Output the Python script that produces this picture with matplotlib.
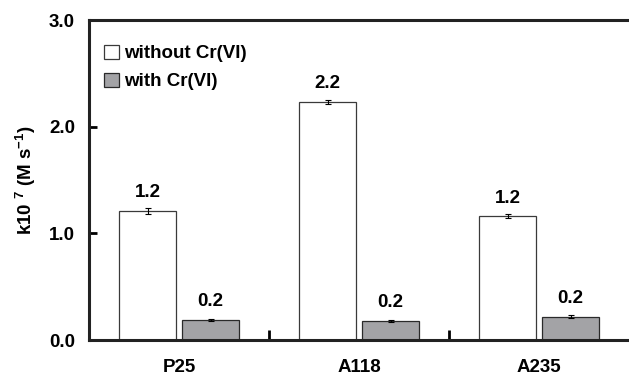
import numpy as np
import matplotlib.pyplot as plt

plt.rcParams["font.family"] = ["Liberation Sans", "DejaVu Sans"]
plt.rcParams["font.weight"] = "bold"
plt.rcParams["mathtext.fontset"] = "custom"
plt.rcParams["mathtext.rm"] = "Liberation Sans:bold"
plt.rcParams["mathtext.bf"] = "Liberation Sans:bold"
plt.rcParams["mathtext.default"] = "bf"

# data
categories = ["P25", "A118", "A235"]
without_cr = [1.21, 2.23, 1.16]
without_err = [0.03, 0.02, 0.02]
with_cr = [0.19, 0.18, 0.22]
with_err = [0.01, 0.01, 0.01]
label_without = ["1.2", "2.2", "1.2"]
label_with = ["0.2", "0.2", "0.2"]

fig = plt.figure(figsize=(6.29, 3.78), dpi=100)
ax = fig.add_axes([0.1415, 0.1005, 0.8585, 0.8465])

x = np.arange(len(categories))
width = 0.32
off = 0.175
fs = 13.5

ax.bar(x - off, without_cr, width, color="white", edgecolor="#3a3a3a",
       linewidth=0.9, label="without Cr(VI)", zorder=2)
ax.bar(x + off, with_cr, width, color="#a3a3a6", edgecolor="#2a2a2a",
       linewidth=0.9, label="with Cr(VI)", zorder=2)
ax.errorbar(x - off, without_cr, yerr=without_err, fmt="none", ecolor="black",
            elinewidth=0.8, capsize=2.5, capthick=0.8, zorder=3)
ax.errorbar(x + off, with_cr, yerr=with_err, fmt="none", ecolor="black",
            elinewidth=0.8, capsize=2.5, capthick=0.8, zorder=3)

for xi, v, t in zip(x - off, without_cr, label_without):
    ax.annotate(t, (xi, v), xytext=(0, 7), textcoords="offset points",
                ha="center", va="bottom", fontsize=fs, fontweight="bold")
for xi, v, t in zip(x + off, with_cr, label_with):
    ax.annotate(t, (xi, v), xytext=(0, 7), textcoords="offset points",
                ha="center", va="bottom", fontsize=fs, fontweight="bold")

ax.set_xlim(-0.5, 2.5)
ax.set_ylim(0, 3.0)
ax.set_yticks([0, 1, 2, 3])
ax.set_yticklabels(["0.0", "1.0", "2.0", "3.0"])
ax.set_xticks([0.5, 1.5])
ax.set_xticklabels([])
ax.set_xticks(x, minor=True)
ax.set_xticklabels(categories, minor=True)
ax.tick_params(axis="x", which="major", direction="in", length=7, width=2)
ax.tick_params(axis="x", which="minor", length=0, pad=14, labelsize=fs)
ax.tick_params(axis="y", direction="in", length=6, width=2, labelsize=fs, pad=10)
for lab in ax.get_xticklabels(minor=True) + ax.get_yticklabels():
    lab.set_fontweight("bold")

for s in ["left", "bottom", "top"]:
    ax.spines[s].set_linewidth(2.2)
    ax.spines[s].set_color("#222222")
ax.spines["right"].set_visible(False)

ax.set_ylabel(r"k10$^{\ 7}$ (M s$^{-1}$)", fontsize=fs, fontweight="bold", labelpad=8)

ax.legend(loc="upper left", frameon=False, fontsize=fs, handlelength=0.8,
          handleheight=0.8, handletextpad=0.25, labelspacing=0.55,
          borderaxespad=0.4, bbox_to_anchor=(0.0, 0.97))

fig.savefig("out.png", dpi=100)
